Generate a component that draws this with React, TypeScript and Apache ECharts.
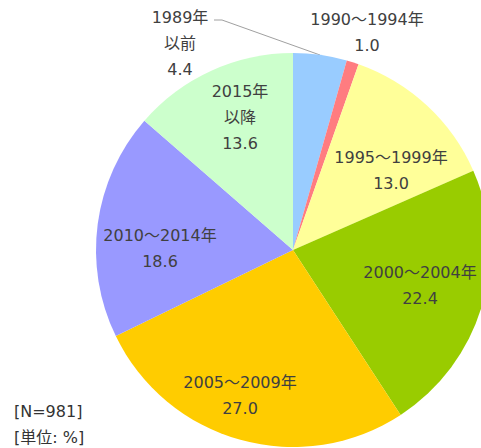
import React, { useEffect, useRef } from "react";
import * as echarts from "echarts";

const categories = ["1989年以前", "1990～1994年", "1995～1999年", "2000～2004年", "2005～2009年", "2010～2014年", "2015年以降"];
const labelNames = ["1989年\n以前", "1990～1994年", "1995～1999年", "2000～2004年", "2005～2009年", "2010～2014年", "2015年\n以降"];
const values = [4.4, 1.0, 13.0, 22.4, 27.0, 18.6, 13.6];
const colors = ["#99CCFF", "#FF7C80", "#FFFF99", "#99CC00", "#FFCC00", "#9999FF", "#CCFFCC"];
const noteLines = ["[N=981]", "[単位: %]"];

// label anchor positions (layout only)
const labelCenters: number[][] = [
  [180, 43],
  [367, 32],
  [391, 170],
  [420, 285],
  [240, 395],
  [160, 248],
  [240, 117],
];
const leaderLine: number[][] = [
  [214, 20],
  [222, 20],
  [320, 55],
];

const FONT = "'DejaVu Sans', Verdana, 'Noto Sans CJK JP', sans-serif";

export default function App() {
  const ref = useRef<HTMLDivElement>(null);
  useEffect(() => {
    document.body.style.margin = "0";
    const chart = echarts.init(ref.current!, null, { renderer: "svg" });
    chart.setOption({
      animation: false,
      backgroundColor: "#FFFFFF",
      graphic: [
        {
          type: "text",
          left: 14,
          top: 398,
          style: {
            text: noteLines.join("\n"),
            font: `16px ${FONT}`,
            lineHeight: 26,
            fill: "#333333",
          },
        },
      ],
      series: [
        {
          type: "pie",
          center: [293, 250],
          radius: 197,
          startAngle: 90,
          clockwise: true,
          avoidLabelOverlap: false,
          silent: true,
          emphasis: { disabled: true },
          itemStyle: { borderWidth: 0 },
          label: {
            show: true,
            position: "inside",
            color: "#404040",
            fontFamily: FONT,
            fontSize: 16,
            lineHeight: 26,
            align: "center",
            formatter: (p: any) => `${labelNames[p.dataIndex]}\n${values[p.dataIndex].toFixed(1)}`,
          },
          labelLine: { show: false },
          labelLayout: (params: any) => {
            const i = params.dataIndex;
            const res: any = {
              x: labelCenters[i][0],
              y: labelCenters[i][1],
              align: "center",
              verticalAlign: "middle",
            };
            if (i === 0) res.labelLinePoints = leaderLine;
            return res;
          },
          data: categories.map((c, i) => {
            const item: any = { name: c, value: values[i], itemStyle: { color: colors[i] } };
            if (i === 0) {
              item.label = { position: "outside" };
              item.labelLine = { show: true, lineStyle: { color: "#A0A0A0", width: 1 } };
            }
            if (i === 1) {
              item.label = { position: "outside" };
              item.labelLine = { show: false };
            }
            return item;
          }),
        },
      ],
    });
    return () => chart.dispose();
  }, []);
  return <div ref={ref} style={{ width: 481, height: 448 }} />;
}
